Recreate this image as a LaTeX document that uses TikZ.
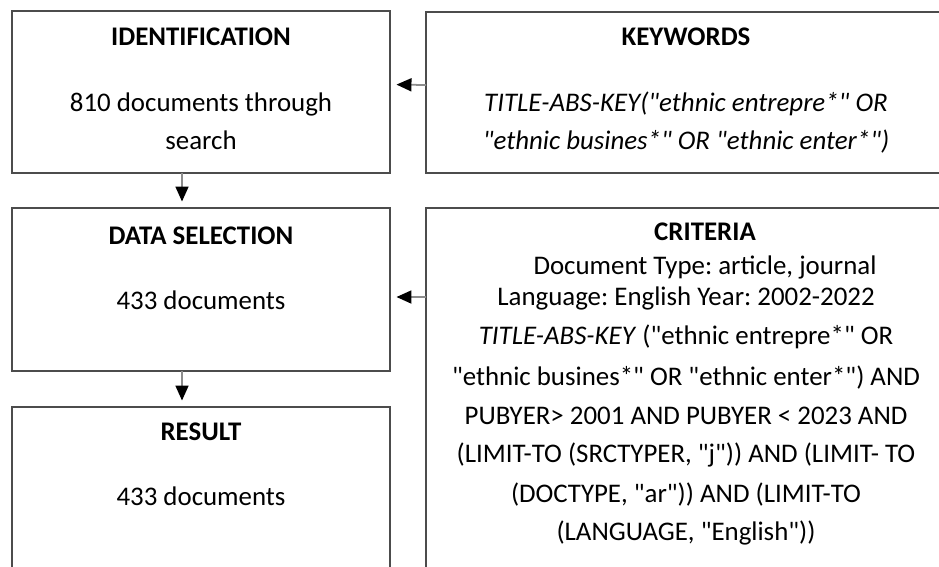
\documentclass[tikz,border=0pt]{standalone}
\usepackage{fontspec}
\setmainfont{Carlito}[Ligatures=TeXOff]
\frenchspacing
\usetikzlibrary{arrows.meta}
\tikzset{
  box/.style={draw=black!70, line width=1pt, inner sep=0pt, outer sep=0pt, fill=white},
  txt/.style={inner sep=0pt, text height=12pt, text depth=3pt, font=\fontsize{15.3}{18}\selectfont},
  ttl/.style={txt, font=\fontsize{15.3}{18}\selectfont\bfseries},
  arr/.style={draw=black!45, line width=1pt, -{Triangle[length=0.3cm,width=0.26cm,color=black]}, shorten >=0.13cm},
}
\begin{document}
\begin{tikzpicture}[x=0.02cm, y=-0.02cm]
  \clip (0,0) rectangle (939,566);
  % boxes
  \node[box, minimum width=7.56cm, minimum height=3.24cm] (ident) at (201,92) {};
  \node[box, minimum width=7.56cm, minimum height=3.26cm] (sel) at (201,289.5) {};
  \node[box, minimum width=7.56cm, minimum height=4.26cm] (res) at (201,513.5) {};
  \node[box, minimum width=10.4cm, minimum height=3.22cm] (kw) at (686,92.5) {};
  \node[box, minimum width=10.4cm, minimum height=8.24cm] (crit) at (686,414) {};
  % titles
  \foreach \nm/\xx/\yy/\lbl in {identT/201/38/IDENTIFICATION, selT/201/237/DATA SELECTION,
      resT/201/433/RESULT, kwT/686/38/KEYWORDS, critT/705/233/CRITERIA}
    \node[ttl] (\nm) at (\xx,\yy) {\lbl};
  % body lines
  \foreach \nm/\xx/\yy/\lbl in {
      identA/201/104/{810 documents through},
      identB/201/142/{search},
      selA/201/302/{433 documents},
      resA/201/498/{433 documents},
      kwA/686/104/{\textit{TITLE-ABS-KEY("ethnic entrepre*" OR}},
      kwB/686/142/{\textit{"ethnic busines*" OR "ethnic enter*")}},
      critA/705/267/{Document Type: article, journal},
      critB/686/298/{Language: English Year: 2002-2022},
      critC/686/337/{\textit{TITLE-ABS-KEY} ("ethnic entrepre*" OR},
      critD/686/378/{"ethnic busines*" OR "ethnic enter*") AND},
      critE/686/417/{PUBYER> 2001 AND PUBYER < 2023 AND},
      critF/686/455/{(LIMIT-TO (SRCTYPER, "j")) AND (LIMIT- TO},
      critG/686/495/{(DOCTYPE, "ar")) AND (LIMIT-TO},
      critH/686/533/{(LANGUAGE, "English"))}}
    \node[txt] (\nm) at (\xx,\yy) {\lbl};
  % arrows
  \draw[arr] ([xshift=-0.38cm]ident.south) -- ([xshift=-0.38cm]sel.north);
  \draw[arr] ([xshift=-0.38cm]sel.south) -- ([xshift=-0.38cm]res.north);
  \draw[arr] ([yshift=0.15cm]kw.west) -- ([yshift=0.15cm]ident.east);
  \draw[arr] ([yshift=-0.15cm]sel.east -| crit.west) -- ([yshift=-0.15cm]sel.east);
\end{tikzpicture}
\end{document}
